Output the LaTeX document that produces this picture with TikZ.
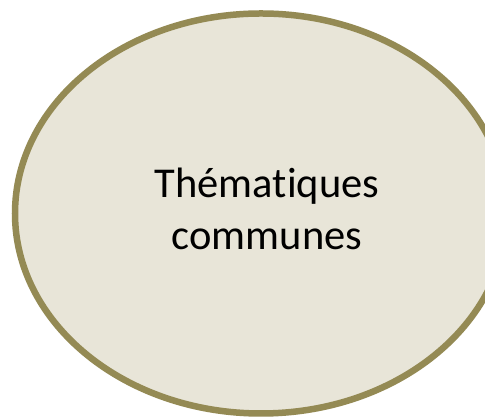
\documentclass[tikz,border=0pt]{standalone}
\usepackage{fontspec}
\setmainfont[Ligatures={NoCommon,NoRare}]{Carlito}
\definecolor{ellfill}{RGB}{232,229,216}
\definecolor{ellborder}{RGB}{148,138,84}
\tikzset{
  bubble/.style={draw=ellborder, fill=ellfill, line width=6.5pt},
  label/.style={font=\fontsize{42.5}{52}\selectfont, text=black, inner sep=0pt}
}
\begin{document}
\begin{tikzpicture}[x=1pt,y=1pt]
\useasboundingbox (0,0) rectangle (485,419);
\clip (0,0) rectangle (485,419);
\fill[white] (0,0) rectangle (485,419);
\draw[bubble] (261,205.5) ellipse [x radius=246, y radius=200];
\node[label, anchor=base] (t1) at (267,221) {Thématiques};
\node[label, anchor=base] (t2) at (267,169) {communes};
\end{tikzpicture}
\end{document}
